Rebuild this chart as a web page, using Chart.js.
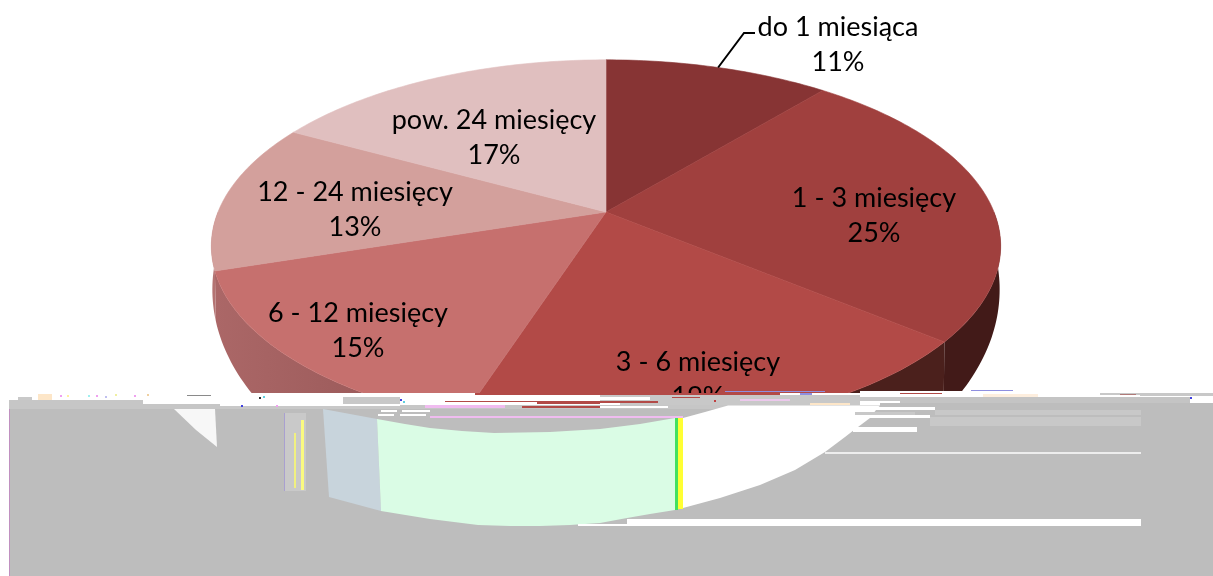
<!DOCTYPE html>
<html>
<head>
<meta charset="utf-8">
<style>
  html, body { margin: 0; padding: 0; background: #fff; overflow: hidden; }
  canvas { display: block; }
</style>
<script src="https://cdn.jsdelivr.net/npm/chart.js@4/dist/chart.umd.min.js"></script>
</head>
<body>
<canvas id="pieChart" width="1213" height="576"></canvas>
<script>
var categories = ['do 1 miesiąca', '1 - 3 miesięcy', '3 - 6 miesięcy', '6 - 12 miesięcy', '12 - 24 miesięcy', 'pow. 24 miesięcy'];
var shares = [11, 25, 19, 15, 13, 17];
var topColors = ['#873434', '#a0403e', '#b24a47', '#c6706e', '#d3a09c', '#e0bfbf'];
var wallColors = ['#421a18', '#421a18', '#4b201c', null, '#b47372', '#b47372'];
var labelCenters = [[838, 27], [874, 198], [698, 362], [358, 313], [355, 192], [494, 120]];

// tilted disc: top face and the lower edge of the side wall
var topDisc = { x: 606, y: 212, a: 388, b: 180, k: 0.183 };
var lowDisc = { x: 606, y: 246, a: 387, b: 230, k: 0.183 };

function project(d, angle) {
  var v = Math.sin(angle);
  var w = 1 / (1 - d.k * v);
  return [d.x + d.a * Math.cos(angle) * w, d.y + d.b * v * w];
}

function tracePoints(ctx, pts) {
  ctx.beginPath();
  pts.forEach(function (p, i) {
    if (i === 0) ctx.moveTo(p[0], p[1]); else ctx.lineTo(p[0], p[1]);
  });
  ctx.closePath();
}

function rimPoints(d, from, to) {
  var pts = [];
  var steps = Math.max(2, Math.ceil((to - from) * 60));
  for (var i = 0; i <= steps; i++) pts.push(project(d, from + (to - from) * i / steps));
  return pts;
}

// the damaged part of the picture at the bottom, painted in this order
var glitchBack = [
  ['#ffffff', 8, 393, 852, 16],
  ['#ffffff', 860, 391, 353, 18],
  ['#bdbdbd', 9, 409, 1204, 167],
  ['#b24a47', 475, 393, 305, 2],
  ['#c8c8c8', 600, 395, 260, 10],
  ['#c8c8c8', 343, 397, 57, 7],
  ['#c6c6c6', 9, 400, 134, 4],
  ['#c6c6c6', 9, 404, 211, 5],
  ['#c8c8c8', 220, 406, 180, 3],
  ['#c9c9c9', 18, 397, 14, 3],
  ['#fde6c8', 38, 394, 14, 6],
  ['#8a8a8a', 187, 395, 24, 1],
  ['#c6c6c6', 400, 405, 480, 4],
  ['#ffffff', 430, 398, 170, 7],
  ['#ffffff', 600, 397, 50, 3],
  ['#ffffff', 600, 402, 20, 3],
  ['#ffffff', 600, 406, 68, 2],
  ['#ffffff', 440, 406, 60, 2],
  ['#b24a47', 445, 401, 155, 1],
  ['#b24a47', 537, 402, 63, 2],
  ['#b24a47', 522, 406, 78, 2],
  ['#b24a47', 600, 401, 58, 2],
  ['#f0bcf0', 425, 405, 80, 3],
  ['#8f8fe0', 725, 391, 100, 1],
  ['#b24a47', 672, 397, 28, 1],
  ['#8f8fe0', 800, 393, 12, 2],
  ['#c8c8c8', 770, 397, 130, 4],
  ['#ecc8ec', 740, 399, 50, 2],
  ['#fde6c8', 810, 403, 40, 2],
  ['#b24a47', 900, 393, 42, 1],
  ['#8f8fe0', 971, 390, 42, 1],
  ['#fdeede', 983, 394, 55, 3],
  ['#c8c8c8', 1100, 393, 40, 2],
  ['#b07a78', 1120, 394, 16, 1],
  ['#c4c4c4', 900, 397, 290, 6],
  ['#bdbdbd', 880, 403, 333, 6],
  ['#c8c8c8', 1140, 393, 73, 3],
  ['#c8c8c8', 935, 410, 206, 5],
  ['#c8c8c8', 930, 417, 211, 9],
  ['#f0bcf0', 430, 416, 253, 2]
];
var glitchShapes = [
  ['#f7f7f7', [[174, 409], [215, 409], [217, 447], [196, 430]]],
  ['#c8d4dc', [[323, 409], [377, 419], [381, 511], [329, 497]]],
  ['#dafce5', [[377, 419], [405, 424], [430, 428], [462, 431], [494, 433], [550, 432], [600, 429], [640, 424], [675, 418],
    [675, 510], [650, 514], [627, 518], [600, 523], [570, 525], [540, 526], [510, 526], [478, 525], [430, 519], [381, 511]]],
  ['#ffffff', [[683, 418], [705, 412], [728, 405.5], [880, 405.5], [876, 410], [870, 418], [854, 430], [845, 437], [825, 452],
    [795, 470], [760, 485], [720, 498], [683, 508]]]
];
var glitchFront = [
  ['#ffffff', 875, 407, 60, 3],
  ['#c8c8c8', 855, 412, 60, 3],
  ['#ffffff', 870, 415, 60, 3],
  ['#ffffff', 853, 427, 64, 5],
  ['#ededed', 825, 452, 316, 2],
  ['#ffffff', 627, 519, 514, 7],
  ['#ffffff', 578, 524, 50, 2],
  ['#c9c9c9', 285, 413, 21, 78],
  ['#a9a0d0', 284, 413, 1, 78],
  ['#f0f080', 294, 433, 2, 55],
  ['#fafa80', 301, 420, 3, 70],
  ['#ffff33', 678, 418, 5, 91],
  ['#44e060', 675, 418, 3, 92],
  ['#c090c0', 9, 409, 1, 167],
  ['#ffffff', 381, 410, 16, 2],
  ['#ffffff', 378, 414, 16, 2],
  ['#ffffff', 402, 410, 28, 2],
  ['#ffffff', 400, 414, 26, 2]
];
var glitchDots = [
  ['#f0a0f0', 60, 395], ['#fff0a0', 67, 395], ['#a0f0f0', 88, 395], ['#f0a0f0', 96, 395],
  ['#c0c0f0', 105, 396], ['#f0f0a0', 115, 394], ['#f0a0f0', 134, 395], ['#f0d0a0', 147, 394],
  ['#303030', 259, 397], ['#60d0e0', 263, 396], ['#4040e0', 241, 405], ['#f0a0f0', 276, 405],
  ['#4040e0', 400, 399], ['#60d0e0', 403, 401], ['#c04040', 714, 400], ['#4040e0', 1190, 397]
];

var piePlugin = {
  id: 'tiltedPie',
  beforeDatasetDraw: function (chart) {
    var ctx = chart.ctx;
    var arcs = chart.getDatasetMeta(0).data;
    // side wall first, only the part that faces the viewer
    arcs.forEach(function (arc, i) {
      var from = Math.max(arc.startAngle, 0);
      var to = Math.min(arc.endAngle, Math.PI);
      if (to <= from) return;
      var pts = rimPoints(topDisc, from, to).concat(rimPoints(lowDisc, from, to).reverse());
      tracePoints(ctx, pts);
      if (wallColors[i]) {
        ctx.fillStyle = wallColors[i];
      } else {
        var g = ctx.createLinearGradient(215, 0, 475, 0);
        g.addColorStop(0, '#ab6767');
        g.addColorStop(1, '#925353');
        ctx.fillStyle = g;
      }
      ctx.fill();
    });
    // top face
    arcs.forEach(function (arc, i) {
      var pts = [[topDisc.x, topDisc.y]].concat(rimPoints(topDisc, arc.startAngle, arc.endAngle));
      tracePoints(ctx, pts);
      ctx.fillStyle = topColors[i];
      ctx.fill();
      ctx.strokeStyle = topColors[i];
      ctx.lineWidth = 0.6;
      ctx.stroke();
    });
    return false;
  },
  afterDatasetsDraw: function (chart) {
    var ctx = chart.ctx;
    var arcs = chart.getDatasetMeta(0).data;
    // leader line of the first slice
    var start = project(topDisc, (arcs[0].startAngle + arcs[0].endAngle) / 2);
    ctx.beginPath();
    ctx.moveTo(start[0], start[1]);
    ctx.lineTo(744, 33);
    ctx.lineTo(755, 33);
    ctx.strokeStyle = '#000';
    ctx.lineWidth = 2;
    ctx.stroke();
    // labels
    ctx.fillStyle = '#000';
    ctx.font = '27px Lato';
    ctx.textAlign = 'center';
    ctx.textBaseline = 'middle';
    categories.forEach(function (name, i) {
      ctx.fillText(name, labelCenters[i][0], labelCenters[i][1]);
      ctx.fillText(shares[i] + '%', labelCenters[i][0], labelCenters[i][1] + 35);
    });
    // damaged band over the lower part
    glitchBack.forEach(function (r) {
      ctx.fillStyle = r[0];
      ctx.fillRect(r[1], r[2], r[3], r[4]);
    });
    glitchShapes.forEach(function (s) {
      tracePoints(ctx, s[1]);
      ctx.fillStyle = s[0];
      ctx.fill();
    });
    glitchFront.forEach(function (r) {
      ctx.fillStyle = r[0];
      ctx.fillRect(r[1], r[2], r[3], r[4]);
    });
    glitchDots.forEach(function (d) {
      ctx.fillStyle = d[0];
      ctx.fillRect(d[1], d[2], 2, 2);
    });
  }
};

var ctx = document.getElementById('pieChart').getContext('2d');
var myChart = new Chart(ctx, {
  type: 'pie',
  data: {
    labels: categories,
    datasets: [{ data: shares, backgroundColor: topColors, borderWidth: 0 }]
  },
  options: {
    responsive: false,
    animation: false,
    devicePixelRatio: 1,
    plugins: { legend: { display: false }, tooltip: { enabled: false } }
  },
  plugins: [piePlugin]
});
</script>
</body>
</html>
